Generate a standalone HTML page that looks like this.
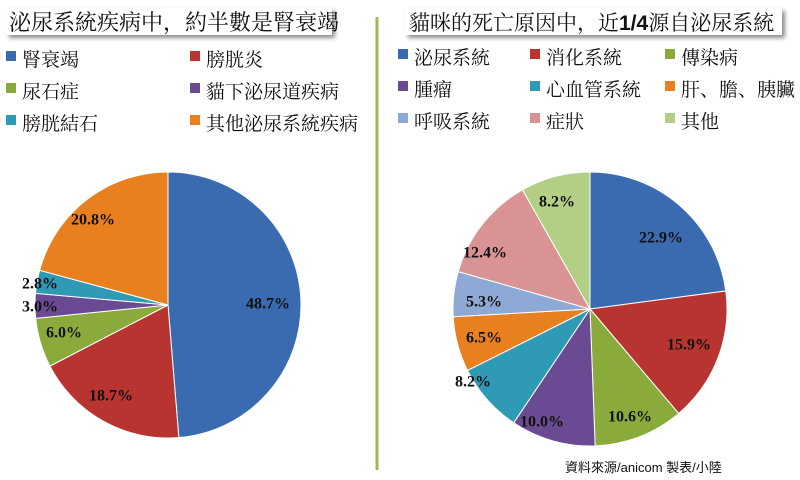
<!DOCTYPE html>
<html><head><meta charset="utf-8"><style>
body{margin:0;width:800px;height:480px;background:#fff;overflow:hidden;font-family:"Liberation Sans","Noto Sans CJK TC",sans-serif}
svg{position:absolute;left:0;top:0}
.lg{font-family:"Liberation Serif","Noto Serif CJK SC","Noto Sans CJK TC",serif;font-size:19px;fill:#111}
.pl{font-family:"Liberation Serif",serif;font-weight:bold;font-size:16px;fill:#111;text-anchor:middle;dominant-baseline:central}
</style></head><body>
<svg id="s" width="800" height="480" xmlns="http://www.w3.org/2000/svg">
<defs><filter id="sh" x="-5%" y="-20%" width="110%" height="160%"><feDropShadow dx="3" dy="3" stdDeviation="2" flood-color="#000" flood-opacity="0.45"/></filter></defs>
<rect x="6" y="8" width="326" height="27" fill="#fff" filter="url(#sh)"/>
<text x="9" y="30" class="lg" style="font-size:22px">泌尿系統疾病中，約半數是腎衰竭</text>
<rect x="405" y="8" width="377" height="27" fill="#fff" filter="url(#sh)"/>
<text x="409" y="30" class="lg" style="font-size:21px">貓咪的死亡原因中，近<tspan font-weight="bold" font-family="Liberation Sans">1/4</tspan>源自泌尿系統</text>
<line x1="377" y1="17" x2="377" y2="470" stroke="#9bbb59" stroke-width="3"/>
<g id="leg"></g><g id="pies"></g>
<text x="565" y="472" style="font-size:13px;font-family:'Liberation Sans','Noto Sans CJK TC',sans-serif" fill="#111">資料來源/anicom  製表/小陸</text>
</svg>
<script>
const NS="http://www.w3.org/2000/svg";
function el(t,a,p,txt){const e=document.createElementNS(NS,t);for(const k in a)e.setAttribute(k,a[k]);if(txt)e.textContent=txt;p.appendChild(e);return e;}
const leg=document.getElementById('leg'),pies=document.getElementById('pies');
const L=[["腎衰竭","#3a6bb0",6,62],["膀胱炎","#b83430",190,62],["尿石症","#8aab3c",6,94],["貓下泌尿道疾病","#6a4a92",190,94],["膀胱結石","#2f9ab5",6,126],["其他泌尿系統疾病","#e9801f",190,126]];
const R=[["泌尿系統","#3a6bb0",398,60],["消化系統","#b83430",530,60],["傳染病","#8aab3c",665,60],["腫瘤","#6a4a92",398,92],["心血管系統","#2f9ab5",530,92],["肝、膽、胰臟","#e9801f",665,92],["呼吸系統","#8ea9d6",398,124],["症狀","#d99395",530,124],["其他","#b3cf85",665,124]];
for(const [t,c,x,y] of L.concat(R)){el('rect',{x:x,y:y-11,width:10,height:10,fill:c},leg);el('text',{x:x+16,y:y+4,class:'lg'},leg,t);}
function pie(cx,cy,r,vals,cols,labels){let a=-Math.PI/2;vals.forEach((v,i)=>{const b=a+v/100*2*Math.PI;
const x1=cx+r*Math.cos(a),y1=cy+r*Math.sin(a),x2=cx+r*Math.cos(b),y2=cy+r*Math.sin(b);
el('path',{d:`M${cx},${cy}L${x1},${y1}A${r},${r} 0 ${b-a>Math.PI?1:0} 1 ${x2},${y2}Z`,fill:cols[i],stroke:'#fff','stroke-width':1},pies);a=b;});
labels.forEach(([t,x,y])=>el('text',{x:x,y:y,class:'pl'},pies,t));}
pie(168,305,133,[48.7,18.7,6.0,3.0,2.8,20.8],L.map(l=>l[1]),[["48.7%",268,304],["18.7%",111,396],["6.0%",64,333],["3.0%",40,307],["2.8%",40,284],["20.8%",93,220]]);
pie(590,309,137,[22.9,15.9,10.6,10.0,8.2,6.5,5.3,12.4,8.2],R.map(l=>l[1]),[["22.9%",661,238],["15.9%",689,345],["10.6%",630,417],["10.0%",542,422],["8.2%",473,382],["6.5%",484,338],["5.3%",484,302],["12.4%",485,253],["8.2%",557,202]]);
</script>
</body></html>
